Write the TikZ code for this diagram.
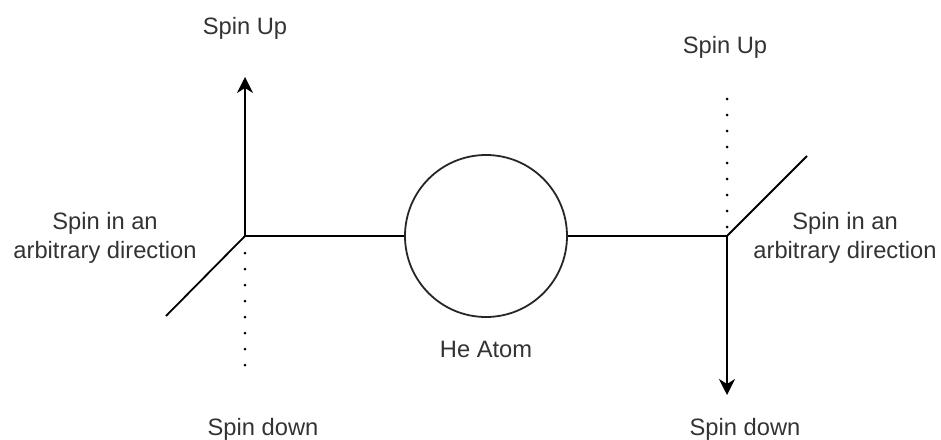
\documentclass[tikz,border=0pt]{standalone}
\usepackage{fontspec}
\setmainfont{Liberation Sans}
\usetikzlibrary{arrows.meta}

\begin{document}
\begin{tikzpicture}[
        x=1pt, y=-1pt,
        font=\fontsize{23.7}{28.5}\selectfont,
        >={Stealth[length=16pt,width=16pt,inset=5pt]},
        axis/.style={draw=black, line width=1.8pt},
        spinarrow/.style={axis, ->},
        dotline/.style={draw=black, line width=3pt, line cap=round, dash pattern=on 0pt off 16pt},
        spintext/.style={text=black!80, align=center, inner sep=0pt},
        atom/.style={circle, draw=black!85, line width=1.8pt, minimum size=162pt, inner sep=0pt}
    ]
    \useasboundingbox (0,0) rectangle (941,439);

    % helium atom in the middle
    \node[atom] (he) at (486,236) {};
    \node[spintext, anchor=base] (heText) at (486,357) {He Atom};

    % left spin frame
    \coordinate (leftJ) at (245,236);
    \coordinate (leftUp) at (245,77);
    \coordinate (leftDiag) at (166,316);
    \coordinate (leftDotA) at (245,253);
    \coordinate (leftDotB) at (245,368);

    % right spin frame
    \coordinate (rightJ) at (727,236);
    \coordinate (rightDown) at (727,395);
    \coordinate (rightDiag) at (807,156);
    \coordinate (rightDotA) at (727,227);
    \coordinate (rightDotB) at (727,98);

    \node[spintext, anchor=base] (upL) at (245,34) {Spin Up};
    \node[spintext] (arbL) at (105,238) {Spin in an\\arbitrary direction};
    \node[spintext, anchor=base] (downL) at (263,435) {Spin down};

    \node[spintext, anchor=base] (upR) at (725,53) {Spin Up};
    \node[spintext] (arbR) at (845,238) {Spin in an\\arbitrary direction};
    \node[spintext, anchor=base] (downR) at (745,435) {Spin down};

    \draw[axis] (leftJ) -- (he.west);
    \draw[axis] (he.east) -- (rightJ);
    \draw[spinarrow] (leftJ) -- (leftUp);
    \draw[axis] (leftJ) -- (leftDiag);
    \draw[dotline] (leftDotA) -- (leftDotB);
    \draw[spinarrow] (rightJ) -- (rightDown);
    \draw[axis] (rightJ) -- (rightDiag);
    \draw[dotline] (rightDotA) -- (rightDotB);
\end{tikzpicture}
\end{document}
